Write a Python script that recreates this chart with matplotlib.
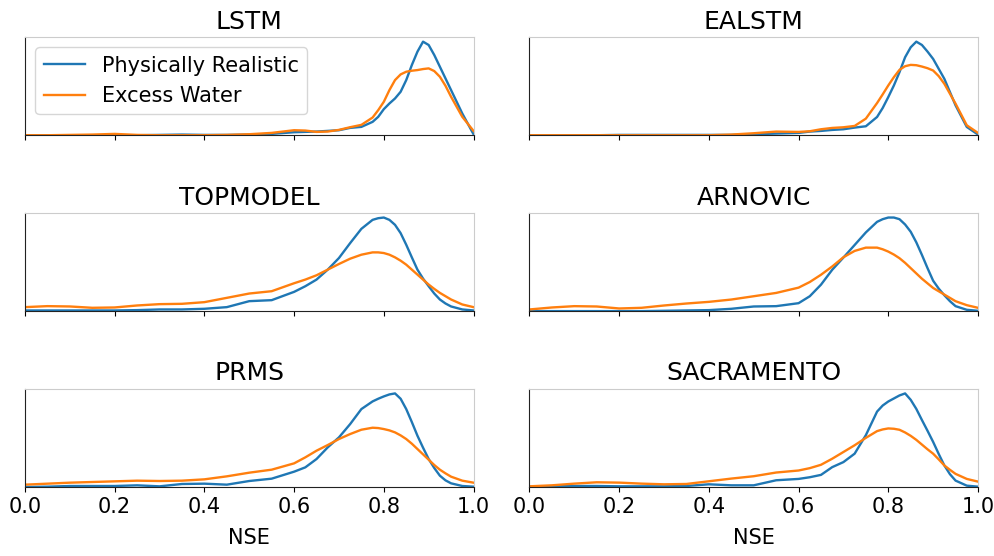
import matplotlib
matplotlib.use("Agg")
import matplotlib.pyplot as plt
import numpy as np

plt.rcParams['font.family'] = ['DejaVu Sans']
plt.rcParams['font.size'] = 15

# NSE grid the density curves were read at (finer around the peaks)
nse = [0.0, 0.05, 0.1, 0.15, 0.2, 0.25, 0.3, 0.35, 0.4, 0.45, 0.5, 0.55,
       0.6, 0.625, 0.65, 0.675, 0.7, 0.725, 0.75,
       0.775, 0.7875, 0.8, 0.8125, 0.825, 0.8375, 0.85, 0.8625, 0.875,
       0.8875, 0.9, 0.9125, 0.925, 0.9375, 0.95,
       0.975, 1.0]

models = ["LSTM", "EALSTM", "TOPMODEL", "ARNOVIC", "PRMS", "SACRAMENTO"]

# KDE densities (arbitrary units) - physically realistic vs excess water
lstm_real = [0, 0, 0, 0, 0, 0, 1, 2, 1, 1, 2, 4,
             9, 10, 11, 13, 15, 22, 25,
             40, 55, 78, 95, 110, 130, 165, 210, 250, 280, 270, 240, 205, 170, 135,
             65, 3]
lstm_excess = [0, 0, 1, 2, 4, 1, 0, 0, 0, 1, 3, 7,
               15, 14, 10, 11, 16, 24, 31,
               53, 75, 100, 135, 165, 182, 190, 193, 195, 198, 200, 192, 175, 148, 115,
               55, 13]

ealstm_real = [0, 0, 0, 0, 1, 1, 1, 1, 1, 1, 3, 5,
               7, 11, 13, 16, 18, 23, 27,
               55, 82, 115, 150, 190, 235, 265, 282, 272, 252, 230, 200, 170, 130, 90,
               25, 2]
ealstm_excess = [0, 0, 0, 0, 0, 0, 0, 0, 0, 2, 6, 11,
                 10, 12, 18, 22, 24, 28, 50,
                 97, 123, 150, 175, 197, 208, 212, 211, 207, 202, 195, 178, 155, 125, 95,
                 30, 7]

topmodel_real = [2, 2, 2, 2, 2, 3, 5, 5, 7, 12, 30, 33,
                 58, 75, 95, 125, 160, 205, 248,
                 275, 280, 282, 275, 260, 235, 200, 162, 125, 98, 75, 53, 35, 23, 14,
                 5, 2]
topmodel_excess = [12, 15, 14, 10, 11, 17, 21, 22, 27, 40, 53, 60,
                   84, 95, 108, 125, 142, 158, 170,
                   177, 177, 175, 170, 162, 152, 140, 125, 110, 95, 80, 67, 55, 45, 35,
                   20, 12]

arnovic_real = [0, 0, 0, 0, 0, 0, 1, 2, 3, 7, 14, 15,
                24, 45, 80, 125, 162, 200, 238,
                270, 278, 283, 283, 278, 262, 240, 208, 170, 130, 92, 68, 48, 30, 15,
                4, 1]
arnovic_excess = [5, 11, 15, 14, 8, 10, 17, 23, 28, 35, 45, 55,
                  71, 88, 110, 135, 163, 182, 192,
                  192, 187, 180, 171, 160, 146, 130, 114, 98, 84, 70, 60, 50, 40, 30,
                  18, 10]

prms_real = [0, 1, 3, 3, 3, 5, 2, 9, 10, 7, 18, 25,
             46, 59, 84, 119, 149, 189, 234,
             257, 265, 272, 278, 281, 265, 234, 195, 154, 118, 84, 57, 34, 20, 11,
             3, 1]
prms_excess = [7, 10, 13, 15, 17, 19, 18, 19, 23, 32, 43, 52,
               71, 89, 109, 126, 144, 159, 172,
               178, 177, 174, 170, 164, 155, 144, 130, 114, 98, 82, 66, 52, 41, 31,
               19, 13]

sac_real = [1, 2, 3, 3, 2, 2, 2, 3, 8, 5, 5, 20,
            24, 29, 36, 59, 74, 99, 154,
            224, 242, 254, 263, 272, 278, 259, 232, 199, 167, 134, 98, 64, 38, 19,
            4, 1]
sac_excess = [2, 5, 10, 14, 13, 10, 8, 9, 17, 25, 32, 43,
              49, 56, 66, 84, 104, 124, 146,
              166, 171, 174, 173, 170, 162, 152, 140, 126, 112, 99, 82, 64, 51, 39,
              24, 16]

realistic = [lstm_real, ealstm_real, topmodel_real, arnovic_real, prms_real, sac_real]
excess = [lstm_excess, ealstm_excess, topmodel_excess, arnovic_excess, prms_excess, sac_excess]

fig, axes = plt.subplots(3, 2, figsize=(9.95, 5.56), dpi=100)
fig.subplots_adjust(left=0.0251, right=0.9829, top=0.9335, bottom=0.1241,
                    wspace=0.1247, hspace=0.79)

for i, ax in enumerate(axes.flat):
    ax.plot(nse, realistic[i], color='#1f77b4', lw=1.7, label='Physically Realistic',
            solid_joinstyle='round')
    ax.plot(nse, excess[i], color='#ff7f0e', lw=1.7, label='Excess Water',
            solid_joinstyle='round')
    top = max(max(realistic[i]), max(excess[i])) * 1.05
    ax.set_xlim(0, 1)
    ax.set_ylim(0, top)
    ax.set_yticks([])
    ax.set_xticks([0, 0.2, 0.4, 0.6, 0.8, 1.0])
    ax.tick_params(axis='x', labelsize=15)
    ax.set_title(models[i], fontsize=18)
    ax.spines['top'].set_color('#cccccc')
    ax.spines['right'].set_color('#cccccc')
    ax.spines['left'].set_color('#222222')
    ax.spines['bottom'].set_color('#222222')
    if i < 4:
        ax.tick_params(axis='x', labelbottom=False)
    else:
        ax.set_xlabel('NSE', fontsize=15, labelpad=8)

axes[0, 0].legend(loc='upper left', fontsize=15)

fig.savefig('out.png', dpi=100)
